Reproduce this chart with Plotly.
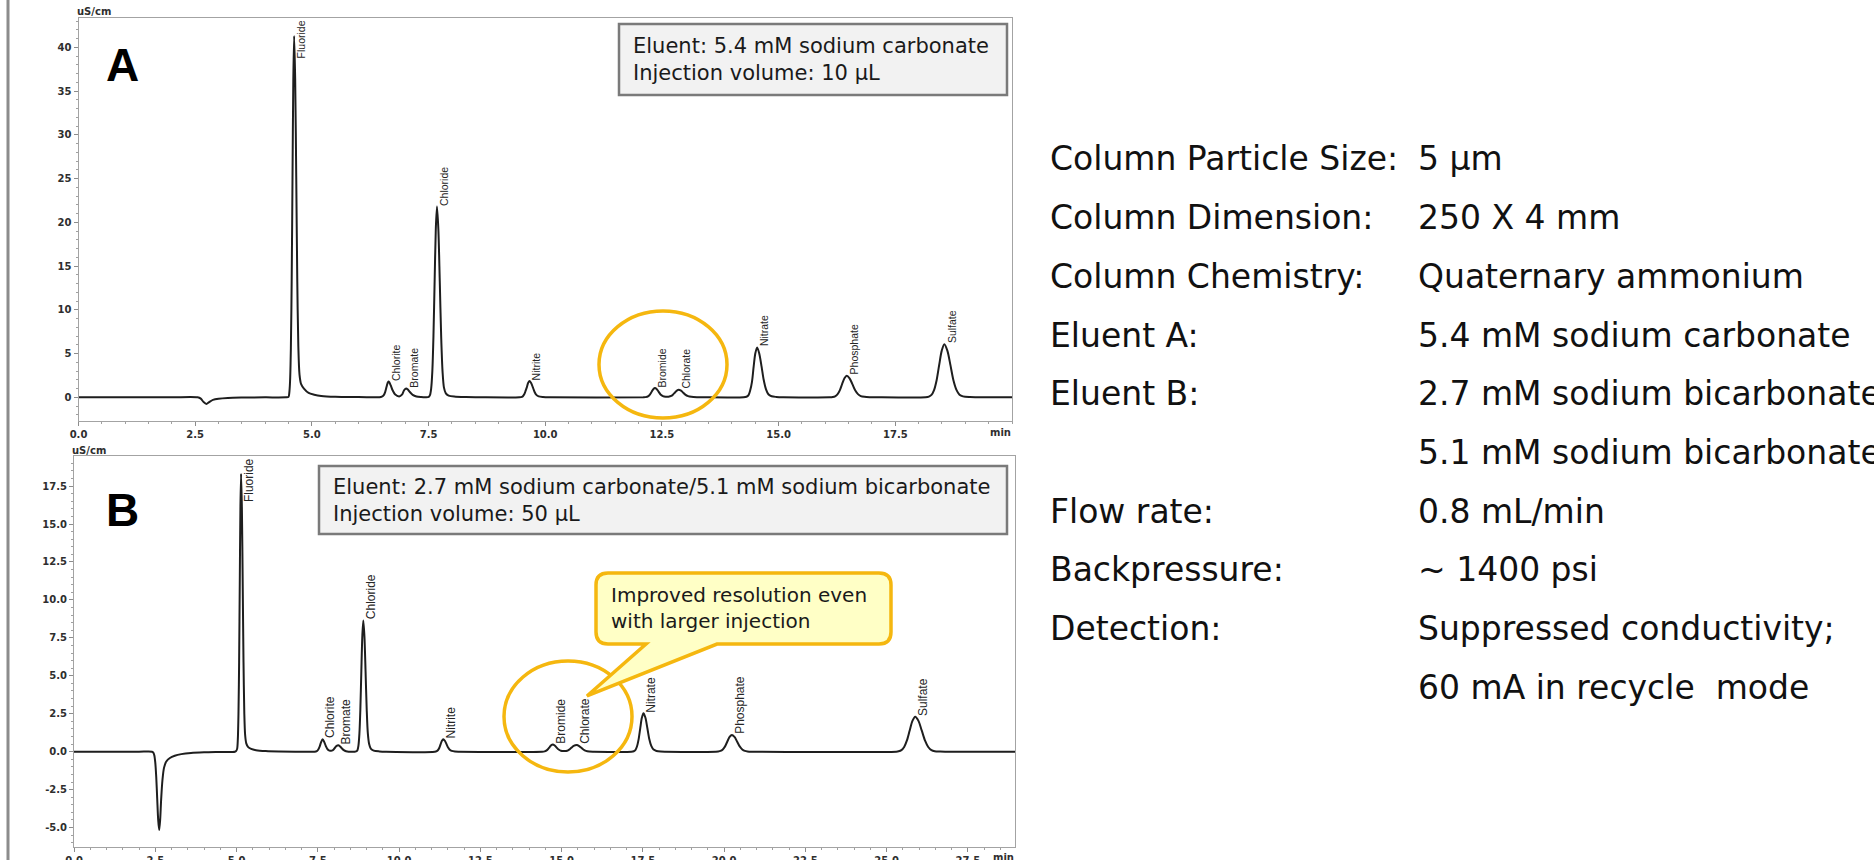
import plotly.graph_objects as go

W, H = 1874, 860
ARIAL = "Liberation Sans, Arial, sans-serif"
WIDE = "DejaVu Sans, Verdana, sans-serif"

# ---------------- data ----------------
time_A = [0.0, 1.0, 2.0, 2.55, 2.62, 2.68, 2.74, 2.80, 2.88, 3.0, 3.2, 3.5, 4.0, 4.45,
          4.5, 4.515, 4.5325, 4.55, 4.5675, 4.585, 4.6025, 4.62, 4.6425, 4.665, 4.6875, 4.71, 4.735, 4.77, 4.83, 4.93, 5.05, 5.2, 5.5, 6.0, 6.4,
          6.45, 6.5, 6.54, 6.57, 6.60, 6.62, 6.64, 6.66, 6.69, 6.73, 6.78, 6.87, 6.93, 6.97, 7.0, 7.02, 7.05, 7.1, 7.16, 7.24, 7.34, 7.45,
          7.505, 7.53, 7.555, 7.58, 7.605, 7.63, 7.655, 7.68, 7.71, 7.74, 7.77, 7.80, 7.83, 7.87, 7.93, 8.05, 8.3, 8.6,
          9.45, 9.5, 9.525, 9.55, 9.58, 9.605, 9.633, 9.66, 9.697, 9.735, 9.772, 9.81, 9.86, 9.95, 10.1,
          12.1, 12.15, 12.21, 12.245, 12.28, 12.315, 12.35, 12.39, 12.43, 12.47, 12.52, 12.58, 12.64, 12.7, 12.74, 12.78, 12.82, 12.86, 12.9, 12.95, 13.0, 13.06, 13.13, 13.25, 13.4,
          14.25, 14.31, 14.355, 14.39, 14.43, 14.465, 14.5, 14.54, 14.585, 14.635, 14.68, 14.73, 14.78, 14.85, 14.95, 15.1,
          16.1, 16.16, 16.21, 16.26, 16.31, 16.36, 16.41, 16.46, 16.52, 16.58, 16.64, 16.70, 16.76, 16.84, 16.95, 17.1,
          18.15, 18.22, 18.275, 18.33, 18.385, 18.44, 18.495, 18.55, 18.615, 18.68, 18.745, 18.81, 18.875, 18.95, 19.1, 19.3, 20.0]
signal_A = [0, 0, 0, 0, -0.15, -0.55, -0.76, -0.55, -0.3, -0.16, -0.07, -0.03, -0.01, 0,
            0.05, 0.45, 1.8, 5.6, 13.4, 25.0, 36.4, 41.3, 36.3, 25.2, 13.2, 5.8, 2.6, 1.5, 1.0, 0.5, 0.3, 0.15, 0.05, 0.02, 0,
            0, 0.08, 0.25, 0.6, 1.2, 1.6, 1.8, 1.7, 1.35, 0.8, 0.35, 0.1, 0.3, 0.75, 0.95, 1.0, 0.92, 0.6, 0.28, 0.09, 0.02, 0,
            0.05, 0.24, 0.96, 2.9, 7.0, 13.3, 19.2, 21.8, 19.2, 13.3, 7.0, 2.9, 1.1, 0.45, 0.2, 0.08, 0.02, 0,
            0, 0.05, 0.15, 0.34, 0.75, 1.13, 1.64, 1.86, 1.64, 1.13, 0.6, 0.27, 0.1, 0.03, 0,
            0, 0.02, 0.14, 0.34, 0.64, 0.92, 1.05, 0.92, 0.62, 0.32, 0.13, 0.06, 0.07, 0.15, 0.33, 0.55, 0.77, 0.85, 0.78, 0.56, 0.3, 0.13, 0.05, 0.01, 0,
            0, 0.06, 0.25, 0.77, 1.8, 3.5, 5.0, 5.7, 5.0, 3.5, 2.0, 0.9, 0.35, 0.12, 0.04, 0,
            0, 0.03, 0.11, 0.33, 0.79, 1.51, 2.17, 2.47, 2.17, 1.51, 0.8, 0.36, 0.14, 0.05, 0.01, 0,
            0, 0.07, 0.27, 0.82, 1.95, 3.7, 5.33, 6.06, 5.33, 3.7, 1.95, 0.85, 0.3, 0.1, 0.02, 0, 0]

time_B = [0.0, 1.0, 2.0, 2.40, 2.44, 2.47, 2.50, 2.53, 2.56, 2.59, 2.62, 2.65, 2.68, 2.72, 2.77, 2.84, 2.95, 3.1, 3.3, 3.6, 4.0, 4.5, 4.95,
          4.99, 5.02, 5.04, 5.06, 5.08, 5.10, 5.12, 5.14, 5.165, 5.19, 5.215, 5.24, 5.265, 5.3, 5.36, 5.45, 5.6, 5.9, 6.3, 6.8,
          7.40, 7.47, 7.51, 7.56, 7.60, 7.65, 7.70, 7.75, 7.80, 7.86, 7.93, 7.98, 8.03, 8.08, 8.13, 8.18, 8.24, 8.30, 8.37, 8.45,
          8.68, 8.72, 8.75, 8.78, 8.81, 8.84, 8.87, 8.90, 8.935, 8.97, 9.005, 9.04, 9.08, 9.13, 9.22, 9.4, 9.6,
          11.1, 11.16, 11.2, 11.24, 11.28, 11.32, 11.36, 11.41, 11.46, 11.51, 11.56, 11.62, 11.72, 11.85,
          14.4, 14.48, 14.53, 14.58, 14.63, 14.68, 14.73, 14.79, 14.85, 14.91, 14.98, 15.06, 15.14, 15.2, 15.26, 15.31, 15.36, 15.42, 15.47, 15.53, 15.6, 15.67, 15.75, 15.85, 16.0,
          17.15, 17.22, 17.27, 17.32, 17.37, 17.42, 17.47, 17.52, 17.58, 17.64, 17.70, 17.76, 17.83, 17.92, 18.05, 18.2,
          19.75, 19.82, 19.89, 19.96, 20.03, 20.10, 20.17, 20.24, 20.32, 20.40, 20.48, 20.56, 20.64, 20.72, 20.85,
          25.3, 25.37, 25.455, 25.54, 25.625, 25.71, 25.795, 25.88, 25.98, 26.08, 26.18, 26.28, 26.38, 26.48, 26.65, 26.8, 28.95]
signal_B = [0, 0, 0, 0, -0.06, -0.23, -0.7, -1.67, -3.1, -4.5, -5.16, -4.5, -3.2, -1.9, -1.05, -0.65, -0.42, -0.27, -0.16, -0.08, -0.04, -0.02, 0,
            0.05, 0.2, 0.8, 2.5, 5.9, 11.1, 16.1, 18.3, 16.1, 11.1, 5.9, 2.5, 1.1, 0.55, 0.3, 0.18, 0.1, 0.04, 0.01, 0,
            0, 0.04, 0.13, 0.35, 0.62, 0.82, 0.63, 0.36, 0.16, 0.07, 0.07, 0.13, 0.26, 0.38, 0.42, 0.36, 0.22, 0.1, 0.03, 0,
            0.02, 0.1, 0.38, 1.17, 2.8, 5.3, 7.6, 8.65, 7.6, 5.3, 2.8, 1.2, 0.5, 0.2, 0.07, 0.02, 0,
            0, 0.04, 0.11, 0.26, 0.5, 0.72, 0.82, 0.72, 0.5, 0.27, 0.12, 0.05, 0.01, 0,
            0, 0.02, 0.065, 0.16, 0.29, 0.42, 0.48, 0.41, 0.27, 0.14, 0.06, 0.04, 0.05, 0.09, 0.18, 0.27, 0.36, 0.42, 0.44, 0.39, 0.27, 0.14, 0.05, 0.01, 0,
            0, 0.03, 0.11, 0.34, 0.81, 1.54, 2.23, 2.53, 2.23, 1.54, 0.82, 0.38, 0.14, 0.05, 0.01, 0,
            0, 0.012, 0.05, 0.15, 0.35, 0.67, 0.97, 1.1, 0.97, 0.67, 0.35, 0.15, 0.05, 0.015, 0,
            0, 0.025, 0.1, 0.31, 0.74, 1.4, 2.03, 2.3, 2.03, 1.4, 0.74, 0.31, 0.1, 0.03, 0.01, 0, 0]

peak_names = ["Fluoride", "Chlorite", "Bromate", "Chloride", "Nitrite",
              "Bromide", "Chlorate", "Nitrate", "Phosphate", "Sulfate"]
peak_rt_A = [4.62, 6.64, 7.02, 7.68, 9.66, 12.35, 12.86, 14.54, 16.46, 18.55]
peak_h_A = [41.3, 1.8, 1.0, 21.8, 1.86, 1.05, 0.85, 5.7, 2.47, 6.06]
peak_rt_B = [5.14, 7.65, 8.13, 8.90, 11.36, 14.73, 15.47, 17.52, 20.24, 25.88]
peak_h_B = [18.3, 0.82, 0.42, 8.65, 0.82, 0.48, 0.44, 2.53, 1.1, 2.3]

xticks_A = [0.0, 2.5, 5.0, 7.5, 10.0, 12.5, 15.0, 17.5]
yticks_A = [0, 5, 10, 15, 20, 25, 30, 35, 40]
xticks_B = [0.0, 2.5, 5.0, 7.5, 10.0, 12.5, 15.0, 17.5, 20.0, 22.5, 25.0, 27.5]
yticks_B = [-5.0, -2.5, 0.0, 2.5, 5.0, 7.5, 10.0, 12.5, 15.0, 17.5]

box_A_lines = ["Eluent: 5.4 mM sodium carbonate", "Injection volume: 10 µL"]
box_B_lines = ["Eluent: 2.7 mM sodium carbonate/5.1 mM sodium bicarbonate", "Injection volume: 50 µL"]
callout_lines = ["Improved resolution even", "with larger injection"]

param_labels = ["Column Particle Size:", "Column Dimension:", "Column Chemistry:", "Eluent A:",
                "Eluent B:", "", "Flow rate:", "Backpressure:", "Detection:", ""]
param_values = ["5 µm", "250 X 4 mm", "Quaternary ammonium", "5.4 mM sodium carbonate",
                "2.7 mM sodium bicarbonate", "5.1 mM sodium bicarbonate", "0.8 mL/min",
                "~ 1400 psi", "Suppressed conductivity;", "60 mA in recycle\u00a0 mode"]

# ---------------- layout helpers (pixel -> paper) ----------------
def fx(x):
    return x / W


def fy(y):
    return 1 - y / H


A_BOX = (78.5, 1012, 18.3, 421)      # plot area in pixels: x0, x1, ytop, ybottom
B_BOX = (74, 1015, 456, 847)
A_YR = [-2.71, 43.31]
B_YR = [-6.28, 19.48]
A_XR = [0, 20]
B_XR = [0, 28.95]

TICKFONT = dict(family=WIDE, size=10, color="#2e2e2e", weight="bold")
GOLD = "#F5B70F"


def axis_style(domain, rng, tickvals, ticktext, minor_dtick, anchor):
    return dict(domain=domain, range=rng, anchor=anchor, showline=True, mirror=True,
                linecolor="#a3a3a3", linewidth=1, ticks="outside", ticklen=4,
                tickcolor="#8c8c8c", tickwidth=1, tickmode="array", tickvals=tickvals,
                ticktext=ticktext, tickfont=TICKFONT, showgrid=False, zeroline=False,
                automargin=False, fixedrange=True,
                minor=dict(tickmode="linear", tick0=0, dtick=minor_dtick, ticks="outside",
                           ticklen=2, tickcolor="#a0a0a0", showgrid=False))


fig = go.Figure()
fig.add_trace(go.Scatter(x=time_A, y=signal_A, mode="lines", xaxis="x", yaxis="y",
                         line=dict(color="#1e1e1e", width=2, shape="spline", smoothing=0.8),
                         hoverinfo="skip"))
fig.add_trace(go.Scatter(x=time_B, y=signal_B, mode="lines", xaxis="x2", yaxis="y2",
                         line=dict(color="#1e1e1e", width=2, shape="spline", smoothing=0.8),
                         hoverinfo="skip"))

annotations = []
shapes = []

# peak labels
def peak_labels(names, rts, hs, xref, yref, yr, size):
    for name, t, h in zip(names, rts, hs):
        if h > 0.8 * yr[1]:
            y, ya, ys = yr[1], "top", -1
        else:
            y, ya, ys = h, "bottom", 0
        annotations.append(dict(x=t, y=y, xref=xref, yref=yref, text=name, textangle=-90,
                                showarrow=False, xanchor="left", yanchor=ya, xshift=0, yshift=ys,
                                borderpad=0, font=dict(family=ARIAL, size=size, color="#262626")))


peak_labels(peak_names, peak_rt_A, peak_h_A, "x", "y", A_YR, 10.5)
peak_labels(peak_names, peak_rt_B, peak_h_B, "x2", "y2", B_YR, 12)

# axis unit labels
for (xl, yl) in [(75, 12), (70, 450)]:
    annotations.append(dict(x=fx(xl), y=fy(yl), xref="paper", yref="paper", text="uS/cm",
                            showarrow=False, xanchor="left", yanchor="middle",
                            font=dict(family=WIDE, size=10, color="#2e2e2e", weight="bold")))
for (xr, yl) in [(1013, 433), (1016, 857)]:
    annotations.append(dict(x=fx(xr), y=fy(yl), xref="paper", yref="paper", text="min",
                            showarrow=False, xanchor="right", yanchor="middle",
                            font=dict(family=WIDE, size=10, color="#2e2e2e", weight="bold")))

# big panel letters
for (letter, xc, yc) in [("A", 122, 65), ("B", 123, 510)]:
    annotations.append(dict(x=fx(xc), y=fy(yc), xref="paper", yref="paper", text=letter,
                            showarrow=False, xanchor="center", yanchor="middle",
                            font=dict(family=ARIAL, size=46, color="#000000", weight="bold")))

# eluent boxes
for (lines, x0, x1, y0, y1) in [(box_A_lines, 619, 1007, 24, 95), (box_B_lines, 319, 1007, 466, 534)]:
    shapes.append(dict(type="rect", xref="paper", yref="paper", x0=fx(x0), x1=fx(x1),
                       y0=fy(y1), y1=fy(y0), fillcolor="#f2f2f2",
                       line=dict(color="#7a7a7a", width=2.5), layer="above"))
    annotations.append(dict(x=fx(x0 + 12), y=fy((y0 + y1) / 2), xref="paper", yref="paper",
                            text="<br>".join(lines), showarrow=False, xanchor="left",
                            yanchor="middle", align="left",
                            font=dict(family=WIDE, size=21, color="#1a1a1a")))

# highlight ellipses
for (x0, x1, y0, y1) in [(599, 727, 311, 418), (504, 632, 661, 772)]:
    shapes.append(dict(type="circle", xref="paper", yref="paper", x0=fx(x0), x1=fx(x1),
                       y0=fy(y1), y1=fy(y0), line=dict(color=GOLD, width=3.5), layer="above"))

# callout balloon
cx0, cx1, cy0, cy1, r = 596, 891, 573, 644, 12
tail_r, tail_tip, tail_l = 717, (587, 696), 646


def P(x, y):
    return f"{fx(x):.5f},{fy(y):.5f}"


path = (f"M {P(cx0 + r, cy0)} L {P(cx1 - r, cy0)} Q {P(cx1, cy0)} {P(cx1, cy0 + r)} "
        f"L {P(cx1, cy1 - r)} Q {P(cx1, cy1)} {P(cx1 - r, cy1)} "
        f"L {P(tail_r, cy1)} L {P(*tail_tip)} L {P(tail_l, cy1)} "
        f"L {P(cx0 + r, cy1)} Q {P(cx0, cy1)} {P(cx0, cy1 - r)} "
        f"L {P(cx0, cy0 + r)} Q {P(cx0, cy0)} {P(cx0 + r, cy0)} Z")
shapes.append(dict(type="path", xref="paper", yref="paper", path=path, fillcolor="#FFFFC6",
                   line=dict(color=GOLD, width=3.5), layer="above"))
annotations.append(dict(x=fx(609), y=fy(608), xref="paper", yref="paper",
                        text="<br>".join(callout_lines), showarrow=False, xanchor="left",
                        yanchor="middle", align="left",
                        font=dict(family=WIDE, size=20, color="#1a1a1a")))

# parameter table on the right
for i, (lab, val) in enumerate(zip(param_labels, param_values)):
    yc = 159 + i * 58.7
    if lab:
        annotations.append(dict(x=fx(1048), y=fy(yc), xref="paper", yref="paper", text=lab,
                                showarrow=False, xanchor="left", yanchor="middle",
                                font=dict(family=WIDE, size=33, color="#111111")))
    annotations.append(dict(x=fx(1416), y=fy(yc), xref="paper", yref="paper", text=val,
                            showarrow=False, xanchor="left", yanchor="middle",
                            font=dict(family=WIDE, size=33, color="#111111")))

# slide frame line on the left
shapes.append(dict(type="line", xref="paper", yref="paper", x0=fx(8), x1=fx(8), y0=0, y1=1,
                   line=dict(color="#8c8c8c", width=3)))

fig.update_layout(
    width=W, height=H, margin=dict(l=0, r=0, t=0, b=0, pad=0),
    paper_bgcolor="white", plot_bgcolor="white", showlegend=False, template="none",
    font=dict(family=ARIAL),
    xaxis=axis_style([fx(A_BOX[0]), fx(A_BOX[1])], A_XR, xticks_A,
                     [f"{v:.1f}" for v in xticks_A], 0.5, "y"),
    yaxis=axis_style([fy(A_BOX[3]), fy(A_BOX[2])], A_YR, yticks_A,
                     [f"{v:d}" for v in yticks_A], 1, "x"),
    xaxis2=axis_style([fx(B_BOX[0]), fx(B_BOX[1])], B_XR, xticks_B,
                      [f"{v:.1f}" for v in xticks_B], 0.5, "y2"),
    yaxis2=axis_style([fy(B_BOX[3]), fy(B_BOX[2])], B_YR, yticks_B,
                      [f"{v:.1f}" for v in yticks_B], 0.5, "x2"),
    annotations=annotations,
    shapes=shapes,
)

fig.write_html("out.html")
